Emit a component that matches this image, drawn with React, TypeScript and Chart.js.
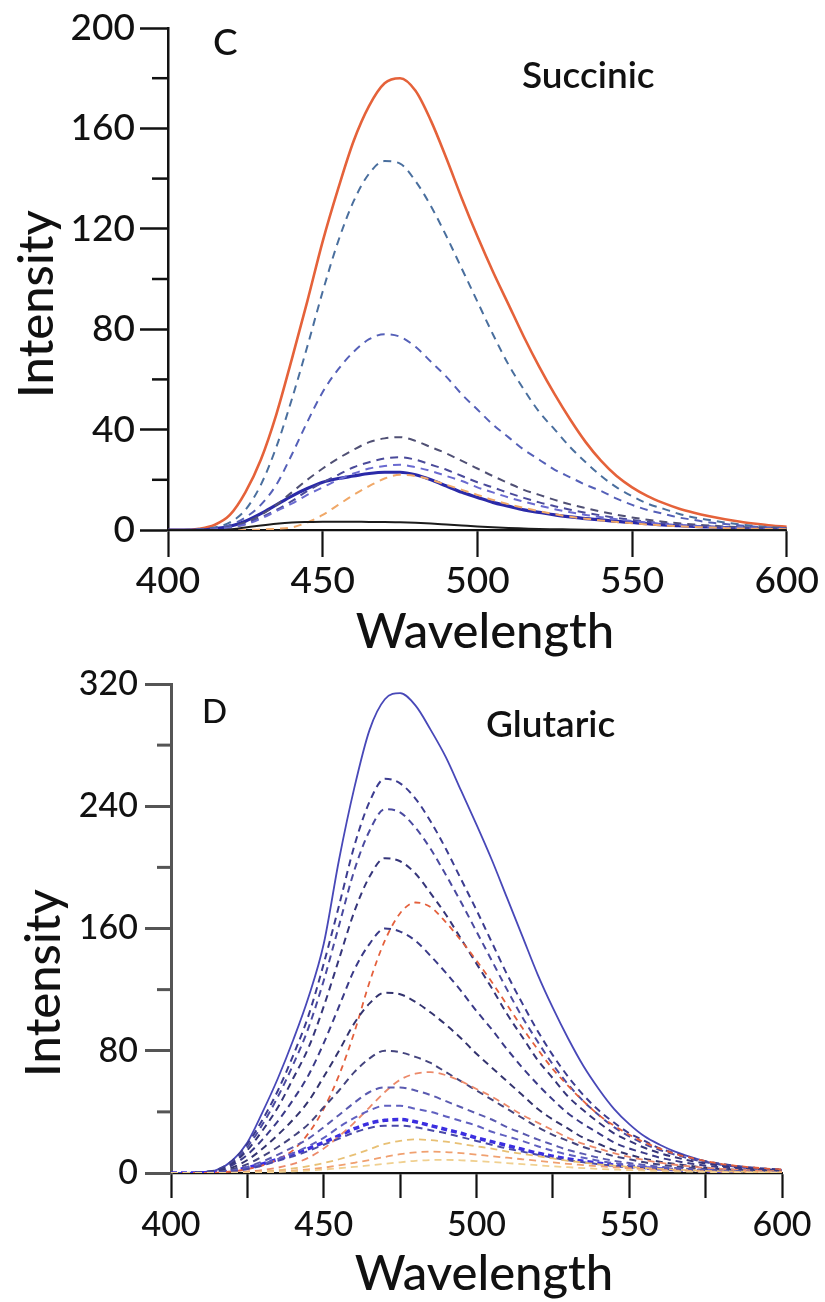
import React, { useEffect, useRef } from "react";
import { Chart, registerables } from "chart.js";

Chart.register(...registerables);

// ---------- shared x values (wavelength, nm) ----------
const WAVELENGTHS = [
  400, 405, 410, 415, 420, 425, 430, 435, 440, 445, 450, 455, 460, 465, 470, 475, 480, 485, 490, 495,
  500, 505, 510, 515, 520, 525, 530, 535, 540, 545, 550, 555, 560, 565, 570, 575, 580, 585, 590, 595, 600,
];

// ---------- Panel C : Succinic ----------
const C_Y_TICKS = [0, 40, 80, 120, 160, 200];
const C_Y_MINOR = [20, 60, 100, 140, 180];
const C_X_TICKS = [400, 450, 500, 550, 600];

const C_ORANGE_SOLID = [0, 0, 0.5, 2, 6, 15, 28, 46, 68, 91, 115, 136, 155, 169, 178, 180, 175, 163, 148, 132, 117, 103, 90, 77, 65, 54, 44, 35, 27.5, 21.5, 17, 13.5, 10.8, 8.6, 6.9, 5.5, 4.3, 3.3, 2.5, 1.8, 1.3];
const C_DASH_147 = [0, 0, 0.3, 1, 3, 8, 18, 33, 52, 73, 95, 115, 131, 142, 147, 146, 139, 129, 117, 104, 91, 78, 66, 56, 47, 40, 33, 27, 21.5, 17, 13.5, 10.5, 8.5, 6.5, 5, 4, 3, 2.2, 1.6, 1.1, 0.8];
const C_DASH_78 = [0, 0, 0.2, 0.6, 2, 5, 10, 18, 30, 43, 55, 64, 71, 76, 78, 77, 73, 67, 61, 54, 48, 42, 37, 32, 28, 24, 21, 18, 15.5, 12.5, 10, 8, 6.5, 5, 4, 3, 2.4, 1.8, 1.3, 1, 0.7];
const C_DASH_37 = [0, 0, 0.1, 0.4, 1.2, 3, 6, 10, 15, 20, 24.5, 28.5, 32, 35, 36.5, 37, 35.5, 33, 30.5, 27.5, 24.5, 21.5, 18.7, 16, 14, 12, 10.2, 8.7, 7.3, 6.1, 5, 4.1, 3.3, 2.7, 2.2, 1.8, 1.4, 1.1, 0.9, 0.7, 0.5];
const C_DASH_29 = [0, 0, 0.1, 0.3, 1, 2.5, 5, 8, 11.5, 15.5, 19, 22, 25, 27, 28.5, 29, 28, 26, 24, 21.5, 19, 17, 14.8, 12.8, 11, 9.5, 8.1, 6.9, 5.8, 4.8, 4, 3.3, 2.7, 2.2, 1.8, 1.4, 1.1, 0.9, 0.7, 0.5, 0.4];
const C_DASH_26 = [0, 0, 0.1, 0.3, 1, 2.2, 4.5, 7.5, 10.5, 14, 17, 20, 22.5, 24.5, 25.5, 26, 25, 23.5, 21.5, 19.5, 17, 15, 13, 11.3, 9.7, 8.3, 7.1, 6, 5.1, 4.3, 3.6, 3, 2.4, 2, 1.6, 1.3, 1, 0.8, 0.6, 0.5, 0.4];
const C_ORANGE_DASH = [0, 0, 0, 0, 0, 0, 0.2, 0.5, 1, 3, 6, 10, 14, 17.5, 20.5, 22, 21.5, 20, 18, 16, 14, 12, 10.3, 8.8, 7.5, 6.3, 5.3, 4.5, 3.8, 3.2, 2.7, 2.2, 1.8, 1.5, 1.2, 1, 0.8, 0.6, 0.5, 0.4, 0.3];
const C_NAVY_SOLID = [0, 0, 0, 0.5, 1.5, 3.5, 6.5, 10, 13.5, 16.5, 19, 20.5, 21.5, 22.5, 23, 23, 22, 20, 17.5, 15, 13, 11, 9.5, 8, 7, 6, 5.2, 4.5, 4, 3.4, 3, 2.5, 2, 1.7, 1.4, 1.2, 1, 0.8, 0.6, 0.5, 0.4];
const C_BLACK_SOLID = [0, 0, 0, 0, 0.2, 1, 1.8, 2.5, 3, 3.2, 3.3, 3.3, 3.3, 3.2, 3.2, 3.1, 2.9, 2.6, 2.2, 1.8, 1.4, 1.1, 0.8, 0.6, 0.4, 0.3, 0.2, 0.1, 0, 0, 0, 0, 0, 0, 0, 0, 0, 0, 0, 0, 0];

// ---------- Panel D : Glutaric ----------
const D_Y_TICKS = [0, 80, 160, 240, 320];
const D_Y_MINOR = [40, 120, 200, 280];
const D_X_TICKS = [400, 425, 450, 475, 500, 525, 550, 575, 600];

const D_SOLID = [0, 0, 0.5, 2, 8, 20, 40, 62, 87, 115, 150, 205, 252, 290, 310, 314, 306, 290, 272, 250, 228, 205, 180, 155, 130, 108, 88, 70, 55, 42, 32, 24, 18.5, 14, 10.5, 7.5, 5.5, 4, 3, 2.3, 1.8];
const D_DASH_258 = [0, 0, 0.5, 2, 8, 19, 35, 54, 77, 103, 137, 175, 214, 243, 258, 255, 245, 230, 212, 192, 172, 151, 130, 111, 93, 77, 63, 51, 41, 33, 26, 21, 16, 13, 10, 7.7, 6, 4.6, 3.6, 2.8, 2.3];
const D_DASH_238 = [0, 0, 0.5, 2, 7, 17, 32, 50, 71, 95, 126, 162, 198, 224, 238, 236, 226, 212, 195, 177, 158, 139, 120, 102, 86, 71, 58, 47, 38, 30, 24, 19, 15, 12, 9.3, 7.1, 5.5, 4.3, 3.3, 2.6, 2.1];
const D_DASH_206 = [0, 0, 0.4, 1.6, 6, 15, 28, 43, 62, 82, 109, 140, 171, 194, 206, 204, 196, 183, 169, 153, 137, 121, 104, 89, 74, 62, 50, 41, 33, 26, 21, 16.5, 13, 10.3, 8, 6.2, 4.7, 3.7, 2.9, 2.3, 1.9];
const D_RED_177 = [0, 0, 0, 0.3, 1, 2.5, 5, 9, 15, 26, 42, 64, 92, 125, 152, 170, 177, 174, 164, 152, 139, 125, 110, 95, 81, 68, 57, 47, 38, 31, 25, 20, 16, 12.5, 10, 7.8, 6, 4.7, 3.7, 2.9, 2.3];
const D_DASH_160 = [0, 0, 0.3, 1.3, 5, 12, 22, 34, 48, 64, 85, 109, 133, 150, 160, 158, 152, 142, 131, 119, 106, 94, 81, 69, 58, 48, 39, 32, 26, 20, 16, 13, 10, 8, 6.2, 4.8, 3.7, 2.9, 2.2, 1.8, 1.4];
const D_DASH_118 = [0, 0, 0.2, 1, 3.5, 8.5, 16, 25, 35, 47, 63, 80, 98, 111, 118, 117, 112, 105, 97, 88, 78, 69, 60, 51, 42, 35, 29, 23, 19, 15, 12, 9.4, 7.4, 5.9, 4.6, 3.5, 2.7, 2.1, 1.7, 1.3, 1.1];
const D_DASH_80 = [0, 0, 0.2, 0.7, 2.4, 5.8, 11, 17, 24, 32, 43, 54, 66, 75, 80, 79, 76, 72, 66, 60, 54, 48, 42, 36, 30, 25, 21, 17, 14, 11, 9, 7, 5.5, 4.4, 3.4, 2.6, 2, 1.6, 1.2, 1, 0.8];
const D_PINK_66 = [0, 0, 0, 0.1, 0.4, 1, 2, 3.5, 6, 10, 16, 24, 33, 43, 53, 61, 65, 66, 64, 60, 55, 50, 44, 38, 33, 28, 23, 19, 16, 13, 10.5, 8.5, 6.8, 5.4, 4.3, 3.4, 2.7, 2.1, 1.7, 1.3, 1];
const D_DASH_56 = [0, 0, 0.1, 0.5, 1.7, 4, 7.6, 12, 17, 22.5, 30, 38, 46, 53, 56, 56, 54, 51, 47, 43, 39, 35, 30, 26, 22, 18.5, 15, 12.5, 10, 8, 6.5, 5.2, 4.1, 3.3, 2.6, 2, 1.5, 1.2, 0.9, 0.7, 0.6];
const D_DASH_44 = [0, 0, 0.1, 0.4, 1.3, 3.2, 6, 9.2, 13, 17.6, 23, 30, 36, 41, 44, 44, 42, 40, 37, 34, 31, 27, 24, 21, 17.5, 14.5, 12, 10, 8, 6.5, 5.2, 4.2, 3.3, 2.6, 2, 1.6, 1.2, 0.9, 0.7, 0.6, 0.5];
const D_BLUE_35 = [0, 0, 0.1, 0.4, 1.5, 3.5, 6, 9, 12.5, 16, 20, 24.5, 29, 32.5, 34.5, 35, 33.5, 31, 28.5, 26, 23, 20.5, 18, 15.5, 13, 11, 9.2, 7.7, 6.4, 5.2, 4.2, 3.4, 2.7, 2.2, 1.8, 1.4, 1.1, 0.9, 0.7, 0.6, 0.5];
const D_DASH_31 = [0, 0, 0.1, 0.3, 1, 2.6, 5, 8, 11, 14.5, 18.5, 22.5, 26.5, 29.5, 31, 31, 30, 28, 26, 23.5, 21, 18.5, 16, 14, 12, 10, 8.4, 7, 5.8, 4.7, 3.8, 3.1, 2.5, 2, 1.6, 1.3, 1, 0.8, 0.6, 0.5, 0.4];
const D_YELLOW_22 = [0, 0, 0, 0, 0.2, 0.5, 1, 1.8, 3, 4.5, 6.5, 9, 12, 15.5, 19, 21, 22, 21.5, 20.5, 19, 17.5, 16, 14, 12.5, 11, 9.5, 8, 6.8, 5.7, 4.8, 4, 3.3, 2.7, 2.2, 1.8, 1.4, 1.1, 0.9, 0.7, 0.5, 0.4];
const D_ORANGE_14 = [0, 0, 0, 0, 0.1, 0.3, 0.6, 1, 1.6, 2.4, 3.5, 5, 6.7, 8.5, 10.5, 12.3, 13.5, 14, 13.7, 13, 12, 11, 10, 9, 8, 7, 6, 5.2, 4.4, 3.7, 3.1, 2.6, 2.1, 1.7, 1.4, 1.1, 0.9, 0.7, 0.6, 0.5, 0.4];
const D_YELLOW_9 = [0, 0, 0, 0, 0, 0.2, 0.4, 0.7, 1.1, 1.6, 2.3, 3.1, 4, 5, 6, 7, 8, 8.5, 8.6, 8.3, 7.8, 7.2, 6.5, 5.8, 5.1, 4.4, 3.8, 3.2, 2.7, 2.3, 1.9, 1.6, 1.3, 1.1, 0.9, 0.7, 0.6, 0.5, 0.4, 0.3, 0.3];

const FONT = "Lato";

type SeriesDef = { values: number[]; color: string; width: number; dash?: number[] };

const C_SERIES: SeriesDef[] = [
  { values: C_BLACK_SOLID, color: "#1c1c1c", width: 2 },
  { values: C_ORANGE_DASH, color: "#f0a868", width: 2, dash: [8, 6] },
  { values: C_DASH_26, color: "#6a6ad0", width: 2, dash: [8, 6] },
  { values: C_DASH_29, color: "#4a4a9a", width: 2, dash: [8, 6] },
  { values: C_DASH_37, color: "#505074", width: 2, dash: [8, 6] },
  { values: C_DASH_78, color: "#5560b8", width: 2, dash: [8, 6] },
  { values: C_DASH_147, color: "#4a6f9e", width: 2, dash: [8, 6] },
  { values: C_NAVY_SOLID, color: "#2b2aa8", width: 3.2 },
  { values: C_ORANGE_SOLID, color: "#e5623a", width: 2.6 },
];

const D_SERIES: SeriesDef[] = [
  { values: D_YELLOW_9, color: "#f0d090", width: 1.8, dash: [7, 5] },
  { values: D_ORANGE_14, color: "#f0a070", width: 1.8, dash: [7, 5] },
  { values: D_YELLOW_22, color: "#e8c074", width: 1.8, dash: [7, 5] },
  { values: D_DASH_31, color: "#4848a8", width: 2, dash: [7, 5] },
  { values: D_DASH_44, color: "#6060c0", width: 2, dash: [7, 5] },
  { values: D_DASH_56, color: "#5a5ab0", width: 2, dash: [7, 5] },
  { values: D_PINK_66, color: "#ec8a6a", width: 1.8, dash: [7, 5] },
  { values: D_DASH_80, color: "#44447e", width: 2, dash: [7, 5] },
  { values: D_DASH_118, color: "#33336e", width: 2, dash: [7, 5] },
  { values: D_DASH_160, color: "#3a3a88", width: 2, dash: [7, 5] },
  { values: D_RED_177, color: "#e4603c", width: 1.8, dash: [6, 5] },
  { values: D_DASH_206, color: "#35357a", width: 2, dash: [7, 5] },
  { values: D_DASH_238, color: "#4a4aa0", width: 2, dash: [7, 5] },
  { values: D_DASH_258, color: "#3c3c90", width: 2, dash: [7, 5] },
  { values: D_BLUE_35, color: "#3b2ee0", width: 3.5, dash: [6, 4] },
  { values: D_SOLID, color: "#4848b8", width: 1.8 },
];

type TextDef = {
  text: string; x: number; y: number; size: number; weight?: string;
  align?: CanvasTextAlign; rotation?: number;
};

const panelPlugin = {
  id: "panelDecor",
  afterDraw(chart: any, _args: any, opts: any) {
    const ctx: CanvasRenderingContext2D = chart.ctx;
    const minor = opts.minor;
    if (minor) {
      const scale = chart.scales.y;
      ctx.save();
      ctx.strokeStyle = minor.color;
      ctx.lineWidth = minor.width;
      for (const v of minor.values as number[]) {
        const p = scale.getPixelForValue(v);
        ctx.beginPath();
        ctx.moveTo(scale.right - minor.length, p);
        ctx.lineTo(scale.right, p);
        ctx.stroke();
      }
      ctx.restore();
    }
    for (const t of (opts.texts || []) as TextDef[]) {
      ctx.save();
      ctx.font = `${t.weight || "500"} ${t.size}px ${FONT}`;
      ctx.fillStyle = "#111";
      ctx.textAlign = t.align || "left";
      ctx.textBaseline = "alphabetic";
      ctx.translate(t.x, t.y);
      if (t.rotation) ctx.rotate(t.rotation);
      ctx.fillText(t.text, 0, 0);
      ctx.restore();
    }
  },
};

type PanelSpec = {
  height: number;
  series: SeriesDef[];
  yMax: number; yStep: number; yMajor: number[]; yMinor: number[];
  xStep: number; xMajor: number[];
  areaRight: number; areaTop: number; yAxisWidth: number; xAxisHeight: number;
  tickFont: number; xTickLen: number; yTickLen: number; yMinorLen: number;
  xPad: number; yPad: number; yAxisColor: string; yAxisWidthPx: number;
  texts: TextDef[];
};

function buildConfig(spec: PanelSpec): any {
  return {
    type: "line",
    data: {
      datasets: spec.series.map((s) => ({
        data: WAVELENGTHS.map((x, i) => ({ x, y: s.values[i] })),
        borderColor: s.color,
        borderWidth: s.width,
        borderDash: s.dash || [],
        pointRadius: 0,
        fill: false,
        cubicInterpolationMode: "monotone",
      })),
    },
    options: {
      responsive: false,
      animation: false,
      devicePixelRatio: 1,
      events: [],
      layout: { padding: { left: 0, right: 825 - spec.areaRight, top: spec.areaTop, bottom: 0 } },
      plugins: {
        legend: { display: false },
        tooltip: { enabled: false },
        panelDecor: { texts: spec.texts, minor: { values: spec.yMinor, length: spec.yMinorLen, color: spec.yAxisColor, width: spec.yAxisWidthPx } },
      },
      scales: {
        x: {
          type: "linear",
          min: 400,
          max: 600,
          afterFit: (s: any) => { s.height = spec.xAxisHeight; },
          ticks: {
            stepSize: spec.xStep,
            autoSkip: false,
            maxRotation: 0,
            padding: spec.xPad,
            color: "#111",
            font: { family: FONT, size: spec.tickFont, weight: "500", lineHeight: 1 },
            callback: (v: any) => (spec.xMajor.includes(Number(v)) && Number(v) % 50 === 0 ? String(v) : ""),
          },
          grid: { drawOnChartArea: false, drawTicks: true, tickLength: spec.xTickLen, tickWidth: 2.2, tickColor: "#111" },
          border: { display: true, color: "#111", width: 2.2 },
        },
        y: {
          type: "linear",
          min: 0,
          max: spec.yMax,
          afterFit: (s: any) => { s.width = spec.yAxisWidth; },
          ticks: {
            stepSize: spec.yStep,
            autoSkip: false,
            padding: spec.yPad,
            color: "#111",
            font: { family: FONT, size: spec.tickFont, weight: "500", lineHeight: 1 },
            callback: (v: any) => (spec.yMajor.includes(Number(v)) ? String(v) : ""),
          },
          grid: {
            drawOnChartArea: false,
            drawTicks: true,
            tickLength: spec.yTickLen,
            tickWidth: spec.yAxisWidthPx,
            tickColor: (ctx: any) => (spec.yMajor.includes(ctx.tick?.value) ? spec.yAxisColor : "rgba(0,0,0,0)"),
          },
          border: { display: true, color: spec.yAxisColor, width: spec.yAxisWidthPx },
        },
      },
    },
    plugins: [panelPlugin],
  };
}

const SPEC_C: PanelSpec = {
  height: 672,
  series: C_SERIES,
  yMax: 200, yStep: 20, yMajor: C_Y_TICKS, yMinor: C_Y_MINOR,
  xStep: 50, xMajor: C_X_TICKS,
  areaRight: 790, areaTop: 28, yAxisWidth: 168, xAxisHeight: 672 - 530,
  tickFont: 37, xTickLen: 27, yTickLen: 28, yMinorLen: 16,
  xPad: 6, yPad: 5, yAxisColor: "#111", yAxisWidthPx: 2.5,
  texts: [
    { text: "C", x: 213, y: 55, size: 37 },
    { text: "Succinic", x: 522, y: 88, size: 37, weight: "600" },
    { text: "Wavelength", x: 485, y: 648, size: 49, align: "center" },
    { text: "Intensity", x: 53, y: 304, size: 49, align: "center", rotation: -Math.PI / 2 },
  ],
};

const SPEC_D: PanelSpec = {
  height: 642,
  series: D_SERIES,
  yMax: 320, yStep: 40, yMajor: D_Y_TICKS, yMinor: D_Y_MINOR,
  xStep: 25, xMajor: D_X_TICKS,
  areaRight: 782, areaTop: 22, yAxisWidth: 171, xAxisHeight: 642 - 513,
  tickFont: 34, xTickLen: 25, yTickLen: 26, yMinorLen: 14,
  xPad: 10, yPad: 7, yAxisColor: "#555", yAxisWidthPx: 3,
  texts: [
    { text: "D", x: 202, y: 63, size: 33 },
    { text: "Glutaric", x: 486, y: 77, size: 37, weight: "600" },
    { text: "Wavelength", x: 484, y: 630, size: 49, align: "center" },
    { text: "Intensity", x: 60, y: 323, size: 49, align: "center", rotation: -Math.PI / 2 },
  ],
};

function Panel({ top, spec }: { top: number; spec: PanelSpec }) {
  const ref = useRef<HTMLCanvasElement>(null);
  useEffect(() => {
    if (!ref.current) return;
    const chart = new Chart(ref.current, buildConfig(spec));
    return () => chart.destroy();
  }, [spec]);
  return (
    <canvas
      ref={ref}
      width={825}
      height={spec.height}
      style={{ position: "absolute", left: 0, top, width: 825, height: spec.height }}
    />
  );
}

export default function App() {
  return (
    <div style={{ position: "absolute", left: 0, top: 0, width: 825, height: 1302, background: "#ffffff" }}>
      <Panel top={0} spec={SPEC_C} />
      <Panel top={660} spec={SPEC_D} />
    </div>
  );
}
